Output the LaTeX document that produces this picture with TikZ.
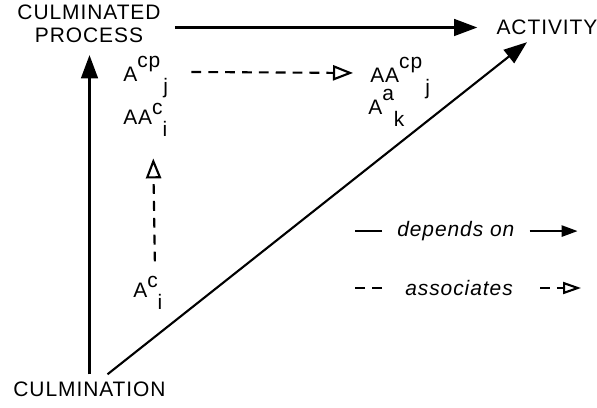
\documentclass[tikz,border=0pt]{standalone}
\usepackage{fontspec}
\setsansfont{Liberation Sans}[LetterSpace=4.5]
\usepackage{tikz}
\usetikzlibrary{arrows.meta}
\newcommand{\idx}[4][0.7em]{#2\raisebox{#1}{#3}\raisebox{-0.55em}{#4}}

\begin{document}
\begin{tikzpicture}[
  font=\sffamily\fontsize{14.9}{16.3}\selectfont,
  term/.style={inner sep=0.175cm, align=center},
  lbl/.style={inner sep=0pt, anchor=base west},
  dep/.style={-{Triangle[length=0.58cm, width=0.42cm]}, line width=1.5pt},
  assoc/.style={-{Triangle[open, length=0.5cm, width=0.38cm]}, line width=1.5pt, dash pattern=on 7pt off 5pt},
  legline/.style={line width=1.5pt}
]
\useasboundingbox (0,0) rectangle (14.925,10.2);
\node[term] (cproc) at (2.225,9.6) {CULMINATED\\PROCESS};
\node[term] (act) at (13.675,9.5125) {ACTIVITY};
\node[term] (culm) at (2.2375,0.475) {CULMINATION};
\node[lbl] (acpj) at (3.075,8.15) {\idx{A}{cp}{\kern0.15em j}};
\node[lbl] (aaci) at (3.075,7.075) {\idx[0.48em]{AA}{c}{i}};
\node[lbl] (aacpj) at (9.25,8.125) {\idx{AA}{cp}{\kern0.15em j}};
\node[lbl] (aak) at (9.2,7.325) {\idx{A}{a}{k}};
\node[lbl] (aci) at (3.325,2.75) {\idx[0.48em]{A}{c}{i}};
\node[lbl] (legdep) at (9.925,4.2875) {\itshape depends on};
\node[lbl] (legasc) at (10.125,2.8125) {\itshape associates};
\draw[dep, shorten >=0.125cm] (culm.north) -- (culm.north |- cproc.south);
\draw[dep, shorten <=0.175cm, shorten >=0.3cm] (cproc.east |- act.west) -- (act.west);
\draw[dep] ([xshift=0.45cm]culm.north) -- ([xshift=-0.5cm]act.south);
\draw[assoc] ([shift={(0.575,0.125)}]acpj.east) -- ([shift={(-0.425,0.125)}]aacpj.west);
\draw[assoc] ([shift={(0.175,0.375)}]aci.north) -- ([shift={(0.2,-0.54)}]aaci.south);
% legend
\draw[legline] ([xshift=-0.375cm]legdep.west) -- ++(-0.675,0);
\draw[dep, -{Triangle[length=0.4cm, width=0.28cm]}] ([xshift=0.375cm]legdep.east) -- ++(1.2,0);
\draw[legline, dash pattern=on 7pt off 5pt] ([xshift=-0.575cm]legasc.west) -- ++(-0.675,0);
\draw[assoc, -{Triangle[open, length=0.45cm, width=0.3cm]}] ([xshift=0.675cm]legasc.east) -- ++(1.025,0);
\end{tikzpicture}
\end{document}
